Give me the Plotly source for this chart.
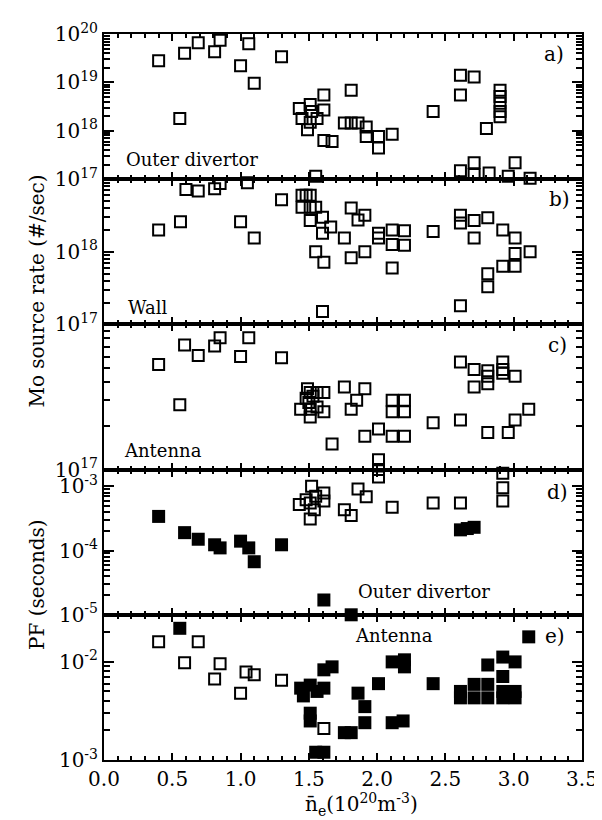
import math
import plotly.graph_objects as go
from plotly.subplots import make_subplots

# ---------------- data ----------------
# a) Outer divertor Mo source rate (#/sec)
a_x = [0.40, 0.59, 0.69, 0.81, 0.85, 1.06, 1.00, 1.10, 1.30, 0.555,
       1.43, 1.45, 1.51, 1.52, 1.51, 1.49, 1.56, 1.61, 1.61, 1.61, 1.67, 1.55,
       1.81, 1.76, 1.81, 1.86, 1.92, 1.92, 2.01, 2.01, 2.11,
       2.41, 2.61, 2.71, 2.61, 2.90, 2.90, 2.90, 2.90, 2.90, 2.80,
       2.61, 2.71, 2.71, 2.82, 3.01, 2.96, 3.12]
a_y = [2.8e19, 4.0e19, 6.6e19, 4.3e19, 7.4e19, 6.3e19, 2.2e19, 9.6e18, 3.4e19, 1.8e18,
       2.9e18, 1.8e18, 3.5e18, 2.5e18, 1.5e18, 1.05e18, 1.8e18, 5.5e18, 2.7e18, 6.3e17, 6.0e17, 1.15e17,
       6.9e18, 1.45e18, 1.45e18, 1.45e18, 1.2e18, 7.6e17, 7.6e17, 4.4e17, 8.5e17,
       2.5e18, 1.4e19, 1.3e19, 5.5e18, 6.9e18, 5.1e18, 3.7e18, 2.5e18, 1.95e18, 1.12e18,
       1.5e17, 2.2e17, 1.25e17, 1.35e17, 2.2e17, 1.15e17, 1.05e17]

# b) Wall
b_x = [0.60, 0.69, 0.81, 0.85, 1.05, 0.40, 0.56, 1.00, 1.10, 1.30,
       1.45, 1.48, 1.51, 1.45, 1.51, 1.55, 1.51, 1.60, 1.60, 1.66, 1.76, 1.55, 1.61,
       1.81, 1.86, 1.91, 1.81, 1.91, 2.01, 2.01, 2.11, 2.11, 2.20, 2.20, 2.11,
       2.41, 2.61, 2.61, 2.71, 2.71, 2.81, 2.92, 3.01, 3.01, 3.12, 2.92, 3.01, 2.81, 2.81, 2.61, 1.60]
b_y = [7.2e18, 6.9e18, 7.4e18, 8.7e18, 8.9e18, 2.0e18, 2.6e18, 2.6e18, 1.55e18, 5.2e18,
       6.0e18, 6.0e18, 6.0e18, 4.1e18, 4.1e18, 4.1e18, 2.7e18, 3.0e18, 1.8e18, 2.2e18, 1.55e18, 1.0e18, 7.2e17,
       4.0e18, 2.75e18, 3.2e18, 8.3e17, 1.0e18, 1.8e18, 1.55e18, 2.0e18, 1.26e18, 1.95e18, 1.23e18, 6.0e17,
       1.9e18, 3.2e18, 2.5e18, 2.7e18, 1.55e18, 2.95e18, 2.0e18, 1.55e18, 9.5e17, 1.0e18, 6.3e17, 6.3e17, 5.0e17, 3.3e17, 1.8e17, 1.5e17]

# c) Antenna
c_x = [0.40, 0.59, 0.69, 0.81, 0.85, 1.06, 1.00, 1.30, 0.555,
       1.51, 1.56, 1.61, 1.48, 1.44, 1.51, 1.56, 1.61, 1.51, 1.67, 1.49, 1.53, 1.50,
       1.76, 1.91, 1.81, 1.85, 1.91, 2.01, 2.11, 2.20, 2.11, 2.20, 2.11, 2.20, 2.01, 2.01,
       2.41, 2.61, 2.61, 2.71, 2.71, 2.81, 2.81, 2.81, 2.92, 2.92, 2.92, 3.01, 2.81, 2.96, 3.01, 3.11]
c_y = [5.3e17, 7.2e17, 6.1e17, 7.1e17, 8.1e17, 8.1e17, 6.0e17, 5.9e17, 2.8e17,
       3.4e17, 3.4e17, 3.4e17, 3.1e17, 2.6e17, 2.6e17, 2.7e17, 2.5e17, 2.3e17, 1.5e17, 3.6e17, 3.2e17, 2.9e17,
       3.7e17, 3.6e17, 2.6e17, 3.0e17, 1.7e17, 1.9e17, 3.0e17, 3.0e17, 2.5e17, 2.5e17, 1.7e17, 1.7e17, 1.17e17, 1.0e17,
       2.1e17, 2.2e17, 5.5e17, 4.9e17, 3.7e17, 4.8e17, 4.4e17, 3.9e17, 5.5e17, 4.9e17, 4.6e17, 4.4e17, 1.8e17, 1.8e17, 2.2e17, 2.6e17]

# d) PF (seconds), Outer divertor
d_open_x = [1.52, 1.48, 1.43, 1.51, 1.55, 1.61, 1.61, 1.51, 1.54, 1.76, 1.81, 1.86, 1.92,
            2.11, 2.41, 2.61, 2.92, 2.92, 2.92, 2.01]
d_open_y = [1.0e-3, 6.2e-4, 5.2e-4, 5.5e-4, 7.0e-4, 7.9e-4, 5.9e-4, 3.1e-4, 4.3e-4, 4.3e-4, 3.5e-4, 9.1e-4, 6.9e-4,
            4.7e-4, 5.5e-4, 5.5e-4, 9.5e-4, 5.9e-4, 1.6e-3, 1.4e-3]
d_fill_x = [0.40, 0.59, 0.69, 0.81, 0.85, 1.00, 1.06, 1.10, 1.30, 1.61, 1.81, 2.61, 2.66, 2.71]
d_fill_y = [3.4e-4, 1.9e-4, 1.5e-4, 1.23e-4, 1.1e-4, 1.4e-4, 1.1e-4, 6.7e-5, 1.23e-4, 1.7e-5, 1.0e-5,
            2.1e-4, 2.2e-4, 2.3e-4]

# e) PF (seconds), Antenna
e_open_x = [0.40, 0.69, 0.59, 0.85, 0.81, 1.04, 1.10, 1.00, 1.30, 1.61]
e_open_y = [1.6e-2, 1.6e-2, 9.8e-3, 9.6e-3, 6.7e-3, 7.9e-3, 7.4e-3, 4.8e-3, 6.5e-3, 2.1e-3]
e_fill_x = [0.555, 1.44, 1.51, 1.46, 1.56, 1.61, 1.61, 1.67, 1.51, 1.51, 1.55, 1.61, 1.76, 1.81, 1.86, 1.91, 1.91,
            2.01, 2.11, 2.20, 2.20, 2.11, 2.19, 2.41, 2.61, 2.61, 2.71, 2.71, 2.81, 2.81, 2.81,
            2.92, 2.92, 3.01, 2.92, 2.92, 3.01, 3.01, 3.11]
e_fill_y = [2.2e-2, 5.4e-3, 5.8e-3, 4.5e-3, 5.0e-3, 5.4e-3, 8.3e-3, 8.9e-3, 3.0e-3, 2.5e-3, 1.2e-3, 1.2e-3, 1.9e-3,
            1.9e-3, 4.8e-3, 3.5e-3, 2.4e-3, 6.0e-3, 1.0e-2, 1.05e-2, 8.9e-3, 2.4e-3, 2.5e-3, 6.0e-3, 5.0e-3,
            4.3e-3, 5.9e-3, 4.3e-3, 9.3e-3, 5.9e-3, 4.3e-3, 1.12e-2, 7.1e-3, 1.0e-2, 5.0e-3, 4.3e-3, 5.0e-3,
            4.3e-3, 1.8e-2]

x_tick_vals = [0.0, 0.5, 1.0, 1.5, 2.0, 2.5, 3.0, 3.5]
x_tick_text = ["0.0", "0.5", "1.0", "1.5", "2.0", "2.5", "3.0", "3.5"]

# y ranges (log10) and labelled decades per panel
panel_ranges = [[17, 20], [17, 19], [17, 18], [-5, -2.74], [-3, -1.52]]
panel_ticks = [
    ([1e17, 1e18, 1e19, 1e20], ["10<sup>17</sup>", "10<sup>18</sup>", "10<sup>19</sup>", "10<sup>20</sup>"]),
    ([1e17, 1e18, 1e19], ["10<sup>17</sup>", "10<sup>18</sup>", ""]),
    ([1e17, 1e18], ["10<sup>17</sup>", ""]),
    ([1e-5, 1e-4, 1e-3], ["10<sup>-5</sup>", "10<sup>-4</sup>", "10<sup>-3</sup>"]),
    ([1e-3, 1e-2], ["10<sup>-3</sup>", "10<sup>-2</sup>"]),
]

FONT = "DejaVu Serif"

fig = make_subplots(rows=5, cols=1, shared_xaxes=True, vertical_spacing=0)

open_marker = dict(symbol="square-open", size=11, color="black", line=dict(width=2, color="black"))
fill_marker = dict(symbol="square", size=13, color="black", line=dict(width=0))

def add(xs, ys, row, marker):
    fig.add_trace(go.Scatter(x=xs, y=ys, mode="markers", marker=marker,
                             cliponaxis=False, showlegend=False, hoverinfo="skip"),
                  row=row, col=1)

add(a_x, a_y, 1, open_marker)
add(b_x, b_y, 2, open_marker)
add(c_x, c_y, 3, open_marker)
add(d_open_x, d_open_y, 4, open_marker)
add(d_fill_x, d_fill_y, 4, fill_marker)
add(e_open_x, e_open_y, 5, open_marker)
add(e_fill_x, e_fill_y, 5, fill_marker)

for i in range(5):
    r = i + 1
    lo, hi = panel_ranges[i]
    minors = []
    for dec in range(int(math.floor(lo)) - 1, int(math.ceil(hi)) + 1):
        for m in range(2, 10):
            v = m * 10.0 ** dec
            if lo < math.log10(v) < hi:
                minors.append(v)
    tv, tt = panel_ticks[i]
    fig.update_yaxes(type="log", range=[lo, hi], tickmode="array", tickvals=tv, ticktext=tt,
                     ticks="inside", ticklen=10, tickwidth=2, tickcolor="black",
                     showline=True, linewidth=2, linecolor="black", mirror="ticks",
                     showgrid=False, zeroline=False,
                     tickfont=dict(family=FONT, size=20, color="black"),
                     minor=dict(tickmode="array", tickvals=minors, ticks="inside", ticklen=6,
                                tickwidth=1.5, tickcolor="black", showgrid=False),
                     row=r, col=1)
    fig.update_xaxes(range=[0, 3.5], tickmode="array", tickvals=x_tick_vals, ticktext=x_tick_text,
                     ticks="inside", ticklen=7, tickwidth=2, tickcolor="black",
                     showline=True, linewidth=2, linecolor="black", mirror="ticks",
                     showgrid=False, zeroline=False,
                     showticklabels=(r == 5),
                     tickfont=dict(family=FONT, size=20, color="black"),
                     minor=dict(dtick=0.1, ticks="inside", ticklen=4, tickwidth=1.5,
                                tickcolor="black", showgrid=False),
                     row=r, col=1)

L, R, T, B = 96, 21, 22, 68
W, H = 602, 820
pw, ph = W - L - R, H - T - B

def px(xp):
    return (xp - L) / pw

def py(yp):
    return (H - B - yp) / ph

annots = [
    ("a)", 553, 42, 20), ("b)", 558, 188, 20), ("c)", 556, 335, 20),
    ("d)", 556, 483, 20), ("e)", 554, 627, 20),
    ("Outer divertor", 185, 148, 18), ("Wall", 140, 297, 18), ("Antenna", 156, 441, 18),
    ("Outer divertor", 421, 583, 18), ("Antenna", 390, 627, 18),
]
for text, xx, yy, fs in annots:
    fig.add_annotation(text=text, x=px(xx), y=py(yy), xref="paper", yref="paper",
                       showarrow=False, xanchor="center", yanchor="middle",
                       font=dict(family=FONT, size=fs, color="black"))

fig.add_annotation(text="Mo source rate (#/sec)", x=px(28), y=py(280), xref="paper", yref="paper",
                   textangle=-90, showarrow=False, xanchor="center", yanchor="middle",
                   font=dict(family=FONT, size=20, color="black"))
fig.add_annotation(text="PF (seconds)", x=px(28), y=py(575), xref="paper", yref="paper",
                   textangle=-90, showarrow=False, xanchor="center", yanchor="middle",
                   font=dict(family=FONT, size=20, color="black"))
fig.add_annotation(text="n\u0304<sub>e</sub>(10<sup>20</sup>m<sup>-3</sup>)", x=px(357), y=py(797),
                   xref="paper", yref="paper", showarrow=False, xanchor="center", yanchor="middle",
                   font=dict(family=FONT, size=20, color="black"))

fig.update_layout(width=W, height=H, margin=dict(l=L, r=R, t=T, b=B),
                  plot_bgcolor="white", paper_bgcolor="white", showlegend=False)

fig.write_html("out.html")
